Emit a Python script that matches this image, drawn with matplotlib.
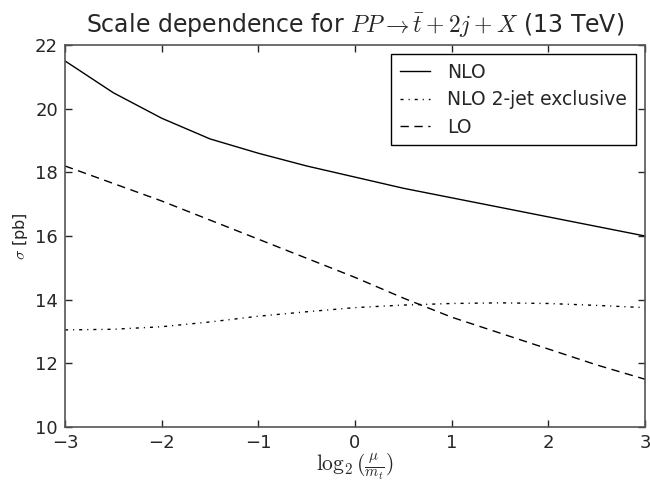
import matplotlib
matplotlib.use("Agg")
import matplotlib.pyplot as plt
import numpy as np

x = [-3, -2.5, -2, -1.5, -1, -0.5, 0, 0.5, 1, 1.5, 2, 2.5, 3]
nlo = [21.5, 20.5, 19.7, 19.05, 18.6, 18.2, 17.85, 17.5, 17.2, 16.9, 16.6, 16.3, 16.0]
nlo_2jet = [13.05, 13.07, 13.15, 13.3, 13.48, 13.62, 13.75, 13.83, 13.88, 13.9, 13.88, 13.82, 13.75]
lo = [18.2, 17.65, 17.1, 16.5, 15.9, 15.3, 14.7, 14.05, 13.45, 12.95, 12.45, 11.95, 11.5]

txt = '#262626'
plt.rcParams['font.family'] = ['DejaVu Sans']
plt.rcParams['mathtext.fontset'] = 'cm'
plt.rcParams['text.color'] = txt
plt.rcParams['axes.labelcolor'] = txt
plt.rcParams['xtick.color'] = txt
plt.rcParams['ytick.color'] = txt

fig = plt.figure(figsize=(6.5, 4.83), dpi=100)
ax = fig.add_axes([65/650, 1 - 427/483, 580/650, 382/483])

ax.plot(x, nlo, color='black', lw=1.0, ls='-', label='NLO')
ax.plot(x, nlo_2jet, color='black', lw=1.0, ls=(0, (2.2, 3.6, 0.8, 3.6)), label='NLO 2-jet exclusive')
ax.plot(x, lo, color='black', lw=1.0, ls=(0, (6, 4)), label='LO')

ax.set_xlim(-3, 3)
ax.set_ylim(10, 22)
ax.set_xticks([-3, -2, -1, 0, 1, 2, 3])
ax.set_yticks([10, 12, 14, 16, 18, 20, 22])
ax.tick_params(direction='in', top=True, right=True, length=5, width=1, labelsize=13, pad=5)
for s in ax.spines.values():
    s.set_color('#555555')
    s.set_linewidth(1.2)

ax.set_title(r'Scale dependence for $PP \rightarrow \bar{t} + 2j + X$ (13 TeV)', fontsize=17, pad=9)
ax.set_xlabel(r'$\log_2(\frac{\mu}{m_t})$', fontsize=15.5, labelpad=0)
ax.set_ylabel(r'$\sigma$ [pb]', fontsize=11.5)

leg = ax.legend(loc='upper right', fontsize=13.5, frameon=True, fancybox=False,
                edgecolor='black', framealpha=1, borderpad=0.45, handlelength=1.6,
                handletextpad=0.95, labelspacing=0.45, borderaxespad=0.5)
leg.get_frame().set_linewidth(1.0)

fig.savefig('out.png', dpi=100)
